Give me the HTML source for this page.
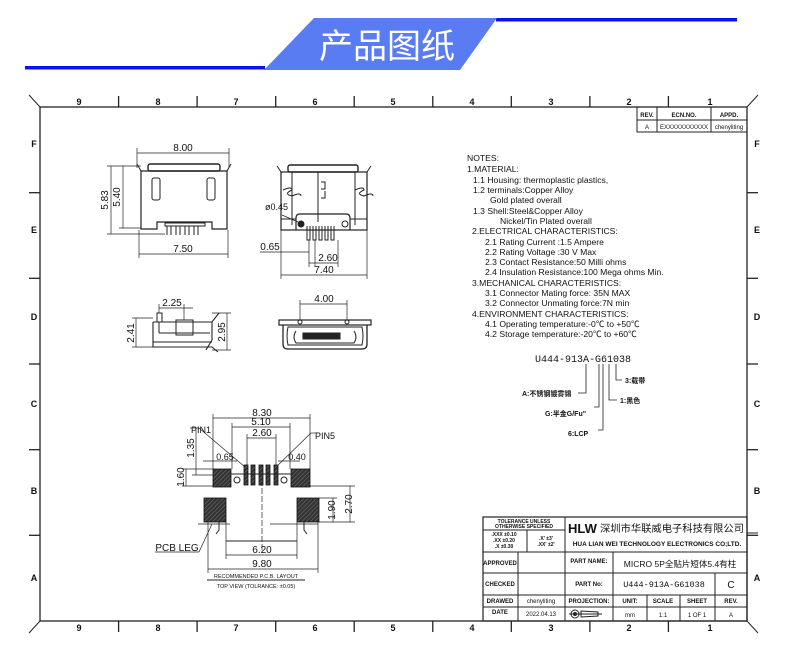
<!DOCTYPE html>
<html><head><meta charset="utf-8"><style>
html,body{margin:0;padding:0;background:#fff;}
svg{display:block;}
text{font-family:"Liberation Sans","Noto Sans CJK SC",sans-serif;fill:#111;}
</style></head><body>
<svg width="790" height="663" viewBox="0 0 790 663" xmlns="http://www.w3.org/2000/svg">
<!-- header -->
<rect x="25" y="66" width="240" height="3.5" fill="#0a14f0"/>
<rect x="496" y="18" width="241" height="3.5" fill="#0a14f0"/>
<polygon points="314,18 497,18 460,70 264,70" fill="#5a7cf3"/>
<text x="387" y="58" font-size="34" text-anchor="middle" style="fill:#fff" font-family="Noto Sans CJK SC,sans-serif">产品图纸</text>

<g stroke="#222" fill="none" stroke-width="1">
<!-- frame -->
<rect x="40" y="107" width="707" height="514" stroke-width="1.3"/>
<line x1="29" y1="95" x2="40" y2="107"/><line x1="758" y1="95" x2="747" y2="107"/>
<line x1="29" y1="633" x2="40" y2="621"/><line x1="758" y1="633" x2="747" y2="621"/>
<g stroke-width="1.3">
<line x1="118.6" y1="96" x2="118.6" y2="107"/><line x1="197.1" y1="96" x2="197.1" y2="107"/><line x1="275.7" y1="96" x2="275.7" y2="107"/><line x1="354.2" y1="96" x2="354.2" y2="107"/><line x1="432.8" y1="96" x2="432.8" y2="107"/><line x1="511.3" y1="96" x2="511.3" y2="107"/><line x1="589.9" y1="96" x2="589.9" y2="107"/><line x1="668.4" y1="96" x2="668.4" y2="107"/>
<line x1="118.6" y1="621" x2="118.6" y2="632"/><line x1="197.1" y1="621" x2="197.1" y2="632"/><line x1="275.7" y1="621" x2="275.7" y2="632"/><line x1="354.2" y1="621" x2="354.2" y2="632"/><line x1="432.8" y1="621" x2="432.8" y2="632"/><line x1="511.3" y1="621" x2="511.3" y2="632"/><line x1="589.9" y1="621" x2="589.9" y2="632"/><line x1="668.4" y1="621" x2="668.4" y2="632"/>
<line x1="29" y1="192.7" x2="40" y2="192.7"/><line x1="29" y1="278.3" x2="40" y2="278.3"/><line x1="29" y1="364" x2="40" y2="364"/><line x1="29" y1="449.7" x2="40" y2="449.7"/><line x1="29" y1="535.3" x2="40" y2="535.3"/>
<line x1="747" y1="192.7" x2="758" y2="192.7"/><line x1="747" y1="278.3" x2="758" y2="278.3"/><line x1="747" y1="364" x2="758" y2="364"/><line x1="747" y1="449.7" x2="758" y2="449.7"/><line x1="747" y1="535.3" x2="758" y2="535.3"/>
</g>
<!-- rev table -->
<rect x="637" y="107" width="110" height="25"/>
<line x1="637" y1="120" x2="747" y2="120"/><line x1="657" y1="107" x2="657" y2="132"/><line x1="711" y1="107" x2="711" y2="132"/>
</g>
<g font-size="9" font-weight="bold" text-anchor="middle">
<text x="79" y="105">9</text><text x="158" y="105">8</text><text x="236" y="105">7</text><text x="315" y="105">6</text><text x="393" y="105">5</text><text x="472" y="105">4</text><text x="551" y="105">3</text><text x="629" y="105">2</text><text x="710" y="105">1</text>
<text x="79" y="631">9</text><text x="158" y="631">8</text><text x="236" y="631">7</text><text x="315" y="631">6</text><text x="393" y="631">5</text><text x="472" y="631">4</text><text x="551" y="631">3</text><text x="629" y="631">2</text><text x="710" y="631">1</text>
<text x="34" y="147">F</text><text x="34" y="233">E</text><text x="34" y="320">D</text><text x="34" y="407">C</text><text x="34" y="494">B</text><text x="34" y="581">A</text>
<text x="757" y="147">F</text><text x="757" y="233">E</text><text x="757" y="320">D</text><text x="757" y="407">C</text><text x="757" y="494">B</text><text x="757" y="581">A</text>
</g>
<g font-size="6" text-anchor="middle">
<text x="647" y="117" font-weight="bold">REV.</text><text x="684" y="117" font-weight="bold">ECN.NO.</text><text x="729" y="117" font-weight="bold">APPD.</text>
<text x="647" y="129">A</text><text x="684" y="129">EXXXXXXXXXXX</text><text x="729" y="129">chenyliting</text>
</g>

<!-- front view left -->
<g stroke="#222" fill="none" stroke-width="1">
<rect x="148" y="164" width="72" height="7" rx="2" stroke-width="1.4"/>
<path d="M141 171 H227 V229 H212 V222 H157 V229 H141 Z" stroke-width="1.2"/>
<line x1="141" y1="171" x2="137" y2="164"/><line x1="227" y1="171" x2="231" y2="164"/>
<rect x="152" y="178" width="8" height="22" rx="2"/><rect x="207" y="178" width="8" height="22" rx="2"/>
<rect x="165" y="223" width="40" height="3"/>
<path d="M167 226v9M171 226v9M176 226v9M180 226v9M185 226v9M189 226v9M194 226v9M198 226v9"/>
<g stroke-width="0.7">
<line x1="137" y1="153" x2="229" y2="153"/><line x1="137" y1="148" x2="137" y2="168"/><line x1="229" y1="148" x2="229" y2="168"/>
<line x1="111" y1="166" x2="111" y2="234"/><line x1="107" y1="166" x2="141" y2="166"/><line x1="107" y1="234" x2="165" y2="234"/>
<line x1="123" y1="166" x2="123" y2="228"/><line x1="119" y1="228" x2="141" y2="228"/>
<line x1="139" y1="254" x2="228" y2="254"/><line x1="139" y1="230" x2="139" y2="258"/><line x1="228" y1="230" x2="228" y2="258"/>
</g>
</g>
<g font-size="10" text-anchor="middle">
<text x="183" y="151">8.00</text><text x="183" y="252">7.50</text>
<text transform="translate(108,200) rotate(-90)">5.83</text>
<text transform="translate(120,197) rotate(-90)">5.40</text>
</g>

<!-- front view right -->
<g stroke="#222" fill="none" stroke-width="1">
<rect x="288" y="165" width="70" height="7" rx="2" stroke-width="1.4"/>
<rect x="281" y="172" width="86" height="58" stroke-width="1.2"/>
<line x1="292" y1="172" x2="292" y2="225"/><line x1="355" y1="172" x2="355" y2="225"/>
<line x1="281" y1="172" x2="277" y2="166"/><line x1="367" y1="172" x2="371" y2="166"/>
<path d="M283 190q9 -4 9 0q-9 4 0 6q9 -4 9 0M355 190q9 -4 9 0q-9 4 0 6q9 -4 9 0"/>
<path d="M321 182h4v7h-4M321 198h4v-7"/>
<line x1="318" y1="172" x2="318" y2="222"/>
<path d="M296 230 V218 Q296 214 300 214 H346 Q350 214 350 218 V230" stroke-width="1.2"/>
<circle cx="301" cy="224" r="3" fill="#222"/><circle cx="345" cy="224" r="3"/>
<path d="M307 226v14h3v-14M313 226v14h3v-14M319 226v14h3v-14M325 226v14h3v-14M331 226v14h3v-14"/>
<line x1="281" y1="219" x2="296" y2="219"/><line x1="350" y1="219" x2="367" y2="219"/>
<g stroke-width="0.7">
<line x1="282" y1="215" x2="298" y2="222"/>
<line x1="281" y1="230" x2="281" y2="279"/><line x1="367" y1="230" x2="367" y2="279"/>
<line x1="281" y1="275" x2="367" y2="275"/>
<line x1="309" y1="240" x2="309" y2="267"/><line x1="315" y1="240" x2="315" y2="267"/><line x1="338" y1="240" x2="338" y2="267"/>
<line x1="260" y1="252" x2="309" y2="252"/>
<line x1="309" y1="263" x2="338" y2="263"/>
</g>
</g>
<g font-size="10" text-anchor="middle">
<text x="265" y="210" text-anchor="start" font-size="9">ø0.45</text>
<text x="270" y="250">0.65</text><text x="328" y="261">2.60</text><text x="324" y="273">7.40</text>
</g>

<!-- side view -->
<g stroke="#222" fill="none" stroke-width="1">
<path d="M153 322 H212 L219 313 M212 322 V340 M153 322 V347 H212 L218 352 M212 340 L206 350" stroke-width="1.1"/>
<rect x="157" y="313" width="5" height="9"/>
<line x1="159" y1="322" x2="159" y2="333"/><line x1="159" y1="333" x2="210" y2="333"/>
<rect x="176" y="320" width="17" height="15"/>
<line x1="153" y1="342" x2="212" y2="342"/>
<g stroke-width="0.7">
<line x1="159" y1="308" x2="193" y2="308"/><line x1="159" y1="304" x2="159" y2="313"/><line x1="184" y1="304" x2="184" y2="320"/>
<line x1="136" y1="318" x2="136" y2="347"/><line x1="132" y1="318" x2="153" y2="318"/><line x1="132" y1="347" x2="153" y2="347"/>
<line x1="227" y1="313" x2="227" y2="350"/><line x1="212" y1="313" x2="231" y2="313"/><line x1="212" y1="350" x2="231" y2="350"/>
</g>
</g>
<g font-size="10" text-anchor="middle">
<text x="172" y="306">2.25</text>
<text transform="translate(134,333) rotate(-90)">2.41</text>
<text transform="translate(225,332) rotate(-90)">2.95</text>
</g>

<!-- end view -->
<g stroke="#222" fill="none" stroke-width="1">
<rect x="279" y="320" width="92" height="5" stroke-width="1.2"/>
<path d="M283 325 V344 Q283 349 288 349 H362 Q367 349 367 344 V325" stroke-width="1.3"/>
<path d="M288 327 Q286 336 288 345 H362 Q364 336 362 327 Z"/>
<path d="M296 331 Q292 337 296 343 H354 Q358 337 354 331"/>
<rect x="303" y="333" width="37" height="6" fill="#222"/>
<circle cx="300" cy="322" r="2"/><circle cx="347" cy="322" r="2"/>
<g stroke-width="0.7">
<line x1="300" y1="304" x2="347" y2="304"/><line x1="300" y1="300" x2="300" y2="320"/><line x1="347" y1="300" x2="347" y2="320"/>
</g>
</g>
<text x="324" y="302" font-size="10" text-anchor="middle">4.00</text>

<!-- PCB layout -->
<g stroke="#222" fill="none" stroke-width="0.7">
<line x1="213" y1="418" x2="310" y2="418"/><line x1="213" y1="414" x2="213" y2="469"/><line x1="310" y1="414" x2="310" y2="469"/>
<line x1="232" y1="427" x2="290" y2="427"/><line x1="232" y1="423" x2="232" y2="469"/><line x1="290" y1="423" x2="290" y2="469"/>
<line x1="247" y1="438" x2="276" y2="438"/><line x1="247" y1="434" x2="247" y2="465"/><line x1="276" y1="434" x2="276" y2="465"/>
<line x1="203" y1="461" x2="237" y2="461"/><line x1="278" y1="461" x2="300" y2="461"/>
<line x1="196" y1="430" x2="196" y2="475"/><line x1="192" y1="475" x2="213" y2="475"/>
<line x1="186" y1="469" x2="186" y2="486"/><line x1="182" y1="469" x2="213" y2="469"/><line x1="182" y1="486" x2="213" y2="486"/>
<line x1="333" y1="498" x2="333" y2="522"/><line x1="319" y1="498" x2="337" y2="498"/><line x1="319" y1="522" x2="355" y2="522"/>
<line x1="350" y1="486" x2="350" y2="522"/><line x1="310" y1="486" x2="355" y2="486"/>
<line x1="199" y1="428" x2="245" y2="467"/><line x1="190" y1="428" x2="199" y2="428"/>
<line x1="311" y1="433" x2="276" y2="467"/><line x1="311" y1="433" x2="316" y2="433"/>
<line x1="226" y1="555" x2="297" y2="555"/><line x1="226" y1="522" x2="226" y2="559"/><line x1="297" y1="522" x2="297" y2="559"/>
<line x1="208" y1="569" x2="318" y2="569"/><line x1="208" y1="522" x2="208" y2="573"/><line x1="318" y1="522" x2="318" y2="573"/>
<line x1="262" y1="480" x2="262" y2="553" stroke-dasharray="6,2"/>
<line x1="198" y1="524" x2="230" y2="524"/><line x1="270" y1="524" x2="318" y2="524"/>
<line x1="226" y1="541" x2="297" y2="541" stroke-width="1"/>
<line x1="155" y1="552" x2="199" y2="552"/><line x1="199" y1="552" x2="212" y2="524"/>
<line x1="207" y1="580" x2="305" y2="580" stroke-width="1"/>
</g>
<defs><pattern id="h" width="3" height="3" patternUnits="userSpaceOnUse" patternTransform="rotate(45)"><rect width="3" height="3" fill="#333"/><line x1="0" y1="0" x2="0" y2="3" stroke="#888" stroke-width="0.8"/></pattern></defs>
<g stroke="#111" stroke-width="0.8" fill="url(#h)">
<rect x="213" y="469" width="18" height="18"/><rect x="291" y="469" width="19" height="18"/>
<rect x="204" y="498" width="22" height="24"/><rect x="297" y="498" width="22" height="24"/>
<rect x="244" y="465" width="4" height="20"/><rect x="251" y="465" width="4" height="20"/><rect x="259" y="465" width="4" height="20"/><rect x="266" y="465" width="4" height="20"/><rect x="274" y="465" width="4" height="20"/>
</g>
<g stroke="#222" fill="none" stroke-width="1">
<circle cx="237" cy="480" r="3"/><circle cx="284" cy="480" r="3"/>
<line x1="231" y1="474" x2="291" y2="474"/>
<path d="M219 522v8l-3 4M304 522v8l3 4"/>
</g>
<g font-size="10" text-anchor="middle">
<text x="262" y="416">8.30</text><text x="261" y="425">5.10</text><text x="262" y="436">2.60</text>
<text x="225" y="460" font-size="9">0.65</text><text x="297" y="460" font-size="9">0.40</text>
<text x="201" y="433" font-size="9">PIN1</text><text x="325" y="439" font-size="9">PIN5</text>
<text x="262" y="553">6.20</text><text x="262" y="567">9.80</text>
<text transform="translate(194,448) rotate(-90)">1.35</text>
<text transform="translate(184,477) rotate(-90)">1.60</text>
<text transform="translate(335,510) rotate(-90)">1.90</text>
<text transform="translate(352,504) rotate(-90)">2.70</text>
<text x="177" y="551" font-size="10">PCB LEG</text>
<text x="256" y="578" font-size="5.5">RECOMMENDED P.C.B. LAYOUT</text>
<text x="256" y="588" font-size="5.5">TOP VIEW (TOLRANCE: ±0.05)</text>
</g>

<!-- notes -->
<g font-size="8.6">
<text x="467" y="161">NOTES:</text>
<text x="467" y="172">1.MATERIAL:</text>
<text x="473" y="183">1.1 Housing: thermoplastic plastics,</text>
<text x="473" y="193">1.2 terminals:Copper Alloy</text>
<text x="490" y="203">Gold plated overall</text>
<text x="473" y="214">1.3 Shell:Steel&amp;Copper Alloy</text>
<text x="500" y="224">Nickel/Tin Plated overall</text>
<text x="472" y="234">2.ELECTRICAL CHARACTERISTICS:</text>
<text x="485" y="245">2.1 Rating Current :1.5 Ampere</text>
<text x="485" y="255">2.2 Rating Voltage :30 V Max</text>
<text x="485" y="265">2.3 Contact Resistance:50 Milli ohms</text>
<text x="485" y="275">2.4 Insulation Resistance:100 Mega ohms Min.</text>
<text x="472" y="286">3.MECHANICAL CHARACTERISTICS:</text>
<text x="485" y="296">3.1 Connector Mating force: 35N MAX</text>
<text x="485" y="306">3.2 Connector Unmating force:7N min</text>
<text x="472" y="317">4.ENVIRONMENT CHARACTERISTICS:</text>
<text x="485" y="327">4.1 Operating temperature:-0℃ to +50℃</text>
<text x="485" y="337">4.2 Storage temperature:-20℃ to +60℃</text>
</g>

<!-- part code -->
<text x="535" y="362" font-size="10" style="font-family:'Liberation Mono',monospace">U444-913A-G61038</text>
<g stroke="#222" fill="none" stroke-width="0.8">
<path d="M586 364 V393 H578"/><path d="M599 364 V407 H594"/><path d="M603 364 V430 H598"/><path d="M609 364 V400 H617"/><path d="M616 364 V380 H622"/>
</g>
<g font-size="7" font-weight="bold">
<text x="522" y="396">A:不锈钢镀雾锡</text>
<text x="545" y="416">G:半金G/Fu"</text>
<text x="568" y="436">6:LCP</text>
<text x="620" y="403">1:黑色</text>
<text x="625" y="383">3:载带</text>
</g>

<!-- title block -->
<g stroke="#222" fill="none" stroke-width="1">
<rect x="483" y="517" width="264" height="104" stroke-width="1.2"/>
<line x1="483" y1="552" x2="747" y2="552"/><line x1="483" y1="573" x2="747" y2="573"/><line x1="483" y1="595" x2="747" y2="595"/><line x1="483" y1="607" x2="747" y2="607"/>
<line x1="565" y1="517" x2="565" y2="621"/><line x1="518" y1="552" x2="518" y2="621"/><line x1="613" y1="552" x2="613" y2="621"/>
<line x1="715" y1="573" x2="715" y2="621"/><line x1="647" y1="595" x2="647" y2="621"/><line x1="680" y1="595" x2="680" y2="621"/>
<line x1="483" y1="530" x2="565" y2="530"/><line x1="527" y1="530" x2="527" y2="552"/>
<line x1="747" y1="533" x2="758" y2="533"/>
<circle cx="575" cy="614" r="4"/><circle cx="575" cy="614" r="1.5" fill="#222"/><line x1="569" y1="614" x2="602" y2="614"/><path d="M581 611 L598 612 V616 L581 617 Z"/>
</g>
<g font-size="5" font-weight="bold" text-anchor="middle">
<text x="524" y="523">TOLERANCE UNLESS</text><text x="524" y="528">OTHERWISE SPECIFIED</text>
<text x="504" y="536">.XXX ±0.10</text><text x="504" y="542">.XX ±0.20</text><text x="504" y="548">.X ±0.30</text>
<text x="546" y="540">.X' ±3'</text><text x="546" y="546">.XX' ±2'</text>
</g>
<text x="568" y="533" font-size="13" font-weight="bold">HLW</text>
<text x="600" y="532" font-size="10" textLength="144" lengthAdjust="spacingAndGlyphs">深圳市华联威电子科技有限公司</text>
<text x="657" y="546" font-size="6.5" font-weight="bold" text-anchor="middle">HUA LIAN WEI TECHNOLOGY ELECTRONICS CO;LTD.</text>
<g font-size="6" font-weight="bold" text-anchor="middle">
<text x="500" y="565">APPROVED</text><text x="589" y="563">PART NAME:</text>
<text x="500" y="586">CHECKED</text><text x="589" y="586">PART No:</text>
<text x="500" y="603">DRAWED</text><text x="589" y="603">PROJECTION:</text>
<text x="500" y="614">DATE</text>
<text x="630" y="603">UNIT:</text><text x="663" y="603">SCALE</text><text x="697" y="603">SHEET</text><text x="731" y="603">REV.</text>
</g>
<g font-size="6" text-anchor="middle">
<text x="541" y="603">chenyliting</text><text x="541" y="616">2022.04.13</text>
<text x="630" y="617">mm</text><text x="663" y="617">1:1</text><text x="697" y="617">1 OF 1</text><text x="731" y="617">A</text>
</g>
<text x="680" y="567" font-size="8.5" text-anchor="middle">MICRO 5P全贴片短体5.4有柱</text>
<text x="664" y="587" font-size="8.5" text-anchor="middle" style="font-family:'Liberation Mono',monospace">U444-913A-G61038</text>
<text x="731" y="588" font-size="10" text-anchor="middle">C</text>
</svg>
</body></html>
